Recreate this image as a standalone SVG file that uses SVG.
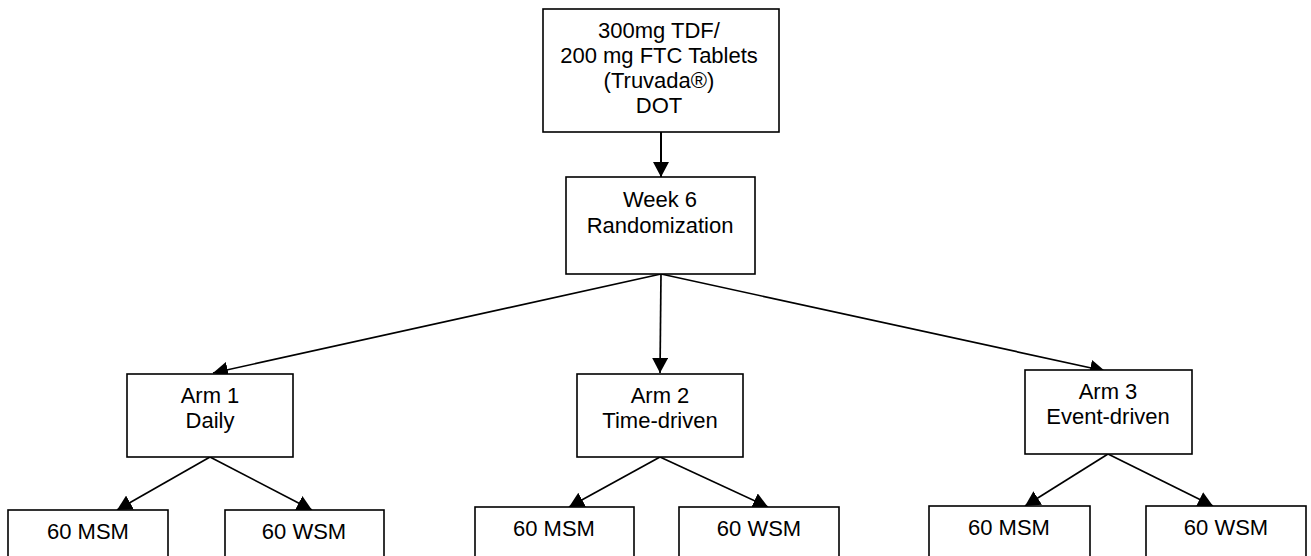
<svg xmlns="http://www.w3.org/2000/svg" width="1311" height="556" viewBox="0 0 1311 556">
<style>
.box{fill:#fff;stroke:#000;stroke-width:1.6}
.lbl{font-family:"Liberation Sans",Arial,sans-serif;font-size:22px;text-anchor:middle;fill:#000}
.con{stroke:#000;stroke-width:1.7;fill:none;marker-end:url(#ah)}
</style>
<defs>
<marker id="ah" markerUnits="userSpaceOnUse" markerWidth="15" markerHeight="16" viewBox="0 0 15 16" refX="15" refY="8" orient="auto">
<path d="M0,0 L15,8 L0,16 z" fill="#000"/>
</marker>
</defs>
<rect width="1311" height="556" fill="#fff"/>
<g id="connectors">
<line class="con" x1="661" y1="132" x2="661" y2="177" style="stroke-width:2"/>
<line class="con" x1="661" y1="274" x2="213" y2="373"/>
<line class="con" x1="661" y1="274" x2="660" y2="373"/>
<line class="con" x1="661" y1="274" x2="1105" y2="371"/>
<line class="con" x1="210" y1="457" x2="117" y2="510"/>
<line class="con" x1="210" y1="457" x2="312" y2="510"/>
<line class="con" x1="660" y1="457" x2="569" y2="507"/>
<line class="con" x1="660" y1="457" x2="768" y2="507"/>
<line class="con" x1="1108" y1="454" x2="1025" y2="506"/>
<line class="con" x1="1108" y1="454" x2="1213" y2="506"/>
</g>
<g id="n-top">
<rect class="box" x="543" y="9" width="236" height="123"/>
<text class="lbl" x="659" y="38">300mg TDF/</text>
<text class="lbl" x="659" y="63">200 mg FTC Tablets</text>
<text class="lbl" x="659" y="88">(Truvada®)</text>
<text class="lbl" x="659" y="113">DOT</text>
</g>
<g id="n-rand">
<rect class="box" x="566" y="177" width="189" height="97"/>
<text class="lbl" x="660" y="207">Week 6</text>
<text class="lbl" x="660" y="233">Randomization</text>
</g>
<g id="n-arm1">
<rect class="box" x="127" y="374" width="166" height="83"/>
<text class="lbl" x="210" y="403">Arm 1</text>
<text class="lbl" x="210" y="428">Daily</text>
</g>
<g id="n-arm2">
<rect class="box" x="577" y="374" width="166" height="83"/>
<text class="lbl" x="660" y="403">Arm 2</text>
<text class="lbl" x="660" y="428">Time-driven</text>
</g>
<g id="n-arm3">
<rect class="box" x="1025" y="370" width="167" height="84"/>
<text class="lbl" x="1108" y="399">Arm 3</text>
<text class="lbl" x="1108" y="424">Event-driven</text>
</g>
<g id="n-msm1">
<rect class="box" x="8" y="510" width="160" height="60"/>
<text class="lbl" x="88" y="539">60 MSM</text>
</g>
<g id="n-wsm1">
<rect class="box" x="225" y="510" width="159" height="60"/>
<text class="lbl" x="304" y="539">60 WSM</text>
</g>
<g id="n-msm2">
<rect class="box" x="475" y="507" width="159" height="60"/>
<text class="lbl" x="554" y="536">60 MSM</text>
</g>
<g id="n-wsm2">
<rect class="box" x="679" y="507" width="160" height="60"/>
<text class="lbl" x="759" y="536">60 WSM</text>
</g>
<g id="n-msm3">
<rect class="box" x="929" y="506" width="161" height="60"/>
<text class="lbl" x="1009" y="535">60 MSM</text>
</g>
<g id="n-wsm3">
<rect class="box" x="1146" y="506" width="160" height="60"/>
<text class="lbl" x="1226" y="535">60 WSM</text>
</g>
</svg>
